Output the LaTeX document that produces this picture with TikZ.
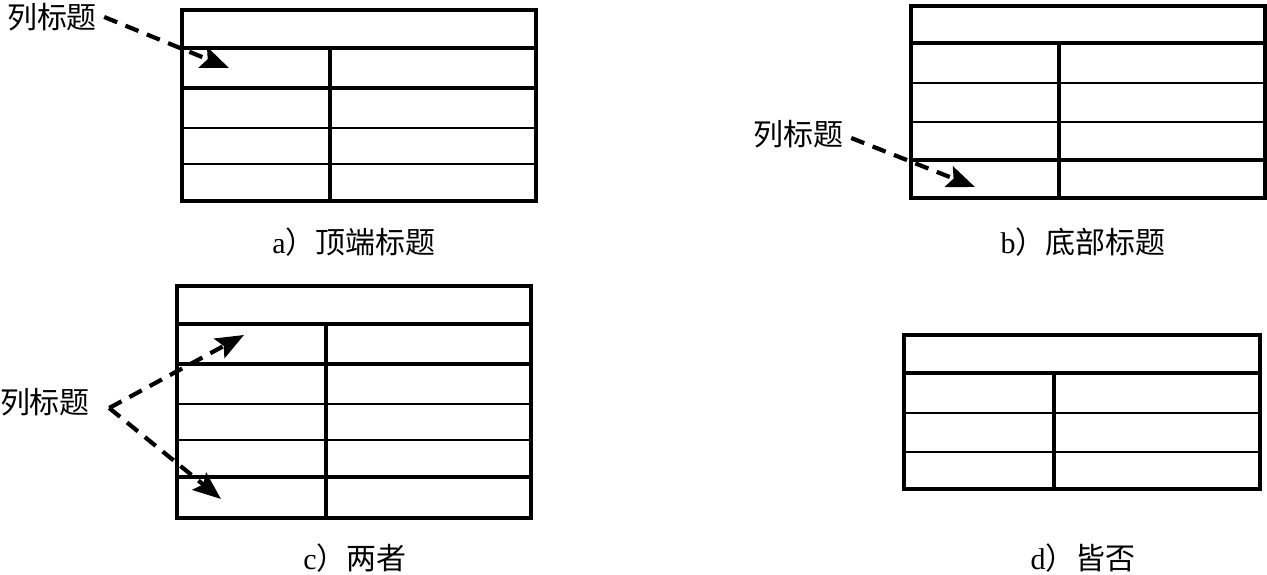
\documentclass[tikz,border=0pt]{standalone}
\usepackage{fontspec}
\setmainfont{Liberation Serif}
\newfontfamily\cjk{Noto Sans CJK SC}
\usetikzlibrary{arrows.meta}

\begin{document}
\begin{tikzpicture}[x=1pt,y=-1pt,
   thickline/.style={line width=4.4pt},
   thinline/.style={line width=2.3pt},
   tag/.style={font=\cjk\fontsize{30}{32}\selectfont,inner sep=0pt},
   capt/.style={font=\fontsize{30}{32}\selectfont,inner sep=0pt},
   dasharrow/.style={line width=4.2pt,dash pattern=on 14pt off 9pt,
     -{Stealth[length=28pt,width=22pt,inset=5pt]}}]
   \useasboundingbox (0,0) rectangle (1267,575);
   % Top
   \draw[thickline] (182,10) rectangle (536,201);
   \draw[thickline] (182,48) -- (536,48);
   \draw[thickline] (182,88) -- (536,88);
   \draw[thinline] (182,128) -- (536,128);
   \draw[thinline] (182,164) -- (536,164);
   \draw[thickline] (330,48) -- (330,201);
   \node[tag] (lbla) at (52,17) {列标题};
   \coordinate (ta) at (229,68);
   \draw[dasharrow] ([xshift=7pt]lbla.east) -- (ta);
   \node[capt] (capa) at (354,242) {a{\cjk ）顶端标题}};
   % Bottom
   \draw[thickline] (911,6) rectangle (1265,198);
   \draw[thickline] (911,43) -- (1265,43);
   \draw[thinline] (911,83) -- (1265,83);
   \draw[thinline] (911,122) -- (1265,122);
   \draw[thickline] (911,160) -- (1265,160);
   \draw[thickline] (1059,43) -- (1059,198);
   \node[tag] (lblb) at (798,134) {列标题};
   \coordinate (tb) at (975,187);
   \draw[dasharrow] ([xshift=8pt,yshift=-4pt]lblb.east) -- (tb);
   \node[capt] (capb) at (1083,242) {b{\cjk ）底部标题}};
   % Both
   \draw[thickline] (177,286) rectangle (531,518);
   \draw[thickline] (177,324) -- (531,324);
   \draw[thickline] (177,364) -- (531,364);
   \draw[thinline] (177,404) -- (531,404);
   \draw[thinline] (177,440) -- (531,440);
   \draw[thickline] (177,477) -- (531,477);
   \draw[thickline] (326,324) -- (326,518);
   \node[tag] (lblc) at (45,402) {列标题};
   \coordinate (tc1) at (244,335);
   \coordinate (tc2) at (221,499);
   \draw[dasharrow] ([xshift=19pt,yshift=-6pt]lblc.east) -- (tc1);
   \draw[dasharrow] ([xshift=19pt,yshift=-6pt]lblc.east) -- (tc2);
   \node[capt] (capc) at (355,558) {c{\cjk ）两者}};
   % Neither
   \draw[thickline] (904,335) rectangle (1260,489);
   \draw[thickline] (904,373) -- (1260,373);
   \draw[thinline] (904,413) -- (1260,413);
   \draw[thinline] (904,452) -- (1260,452);
   \draw[thickline] (1054,373) -- (1054,489);
   \node[capt] (capd) at (1083,558) {d{\cjk ）皆否}};
\end{tikzpicture}
\end{document}
